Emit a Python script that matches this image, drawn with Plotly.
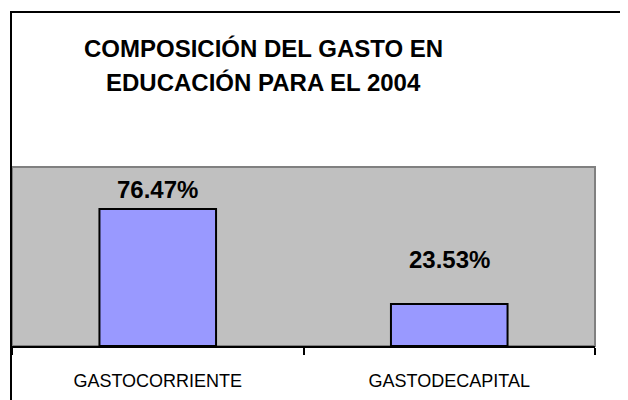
import plotly.graph_objects as go

categories = ["GASTOCORRIENTE", "GASTODECAPITAL"]
values = [76.47, 23.53]
value_labels = ["76.47%", "23.53%"]
title_lines = ["COMPOSICIÓN DEL GASTO EN", "EDUCACIÓN PARA EL 2004"]

OFF = 8  # default page margin of the browser
W, H = 628 - OFF, 400 - OFF
# plot area in screen pixels: x 12..595, y 167..346
PX0, PX1, PY0, PY1 = 12, 595, 167, 346
L, R, T, B = PX0 - OFF, W - (PX1 - OFF), PY0 - OFF, H - (PY1 - OFF)
pw, ph = W - L - R, H - T - B

def px_x(x):
    return (x - OFF - L) / pw

def px_y(y):
    return (H - B - (y - OFF)) / ph

FONT = "Liberation Sans, Arial"

fig = go.Figure()
fig.add_trace(go.Bar(
    x=categories, y=values, width=0.4,
    marker=dict(color="#9999FF", line=dict(color="black", width=2)),
    hoverinfo="skip",
))

label_shift = [20, 44]
for c, v, t, s in zip(categories, values, value_labels, label_shift):
    fig.add_annotation(x=c, y=v, text=t, showarrow=False, yanchor="middle",
                       yshift=s, font=dict(family=FONT, size=24,
                                           color="black", weight="bold"))

title_y = [48, 82]
for line, yy in zip(title_lines, title_y):
    fig.add_annotation(xref="paper", yref="paper", x=px_x(263), y=px_y(yy),
                       text=line, showarrow=False, xanchor="center", yanchor="middle",
                       font=dict(family=FONT, size=24,
                                 color="black", weight="bold"))

# plot area border (gray)
fig.add_shape(type="rect", xref="paper", yref="paper", x0=0, x1=1, y0=0, y1=1,
              line=dict(color="#808080", width=2), layer="below")
# outer chart border
fig.add_shape(type="rect", xref="paper", yref="paper",
              x0=px_x(11), x1=px_x(640), y0=px_y(412), y1=px_y(12),
              line=dict(color="black", width=2))

fig.update_layout(
    width=W, height=H,
    margin=dict(l=L, r=R, t=T, b=B, pad=0),
    paper_bgcolor="white", plot_bgcolor="#C0C0C0",
    showlegend=False,
)
fig.update_xaxes(
    showline=True, linecolor="black", linewidth=2,
    ticks="outside", tickson="boundaries", ticklen=7, tickwidth=2, tickcolor="black",
    ticklabelstandoff=17,
    tickfont=dict(family=FONT, size=18, color="black"),
    showgrid=False, zeroline=False,
)
fig.update_yaxes(range=[0, 100], visible=False, showgrid=False)

fig.write_html("out.html")
